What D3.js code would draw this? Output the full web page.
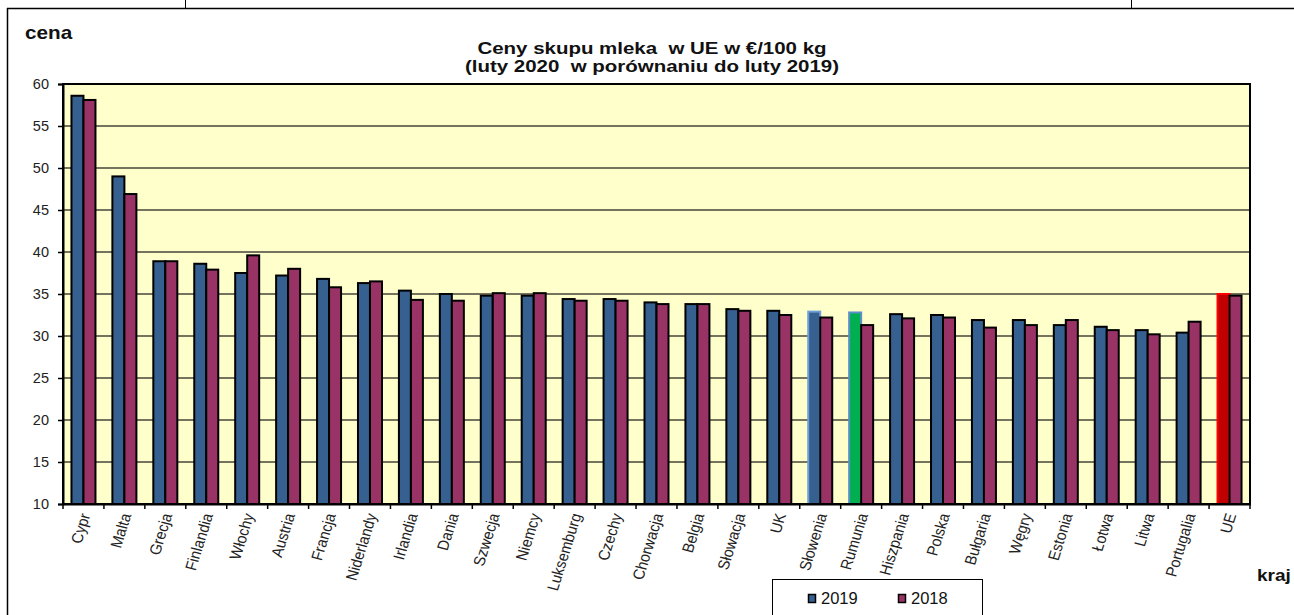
<!DOCTYPE html>
<html><head><meta charset="utf-8">
<script src="https://cdn.jsdelivr.net/npm/d3@7/dist/d3.min.js"></script>
<style>html,body{margin:0;padding:0;background:#fff;}svg{display:block;font-family:"Liberation Sans",Arial,sans-serif;}</style>
</head><body>
<svg id="c" width="1294" height="615"></svg>
<script>
const categories = ["Cypr","Malta","Grecja","Finlandia","Włochy","Austria","Francja","Niderlandy","Irlandia","Dania","Szwecja","Niemcy","Luksemburg","Czechy","Chorwacja","Belgia","Słowacja","UK","Słowenia","Rumunia","Hiszpania","Polska","Bułgaria","Węgry","Estonia","Łotwa","Litwa","Portugalia","UE"];
const values2019 = [58.6,49.0,38.9,38.6,37.5,37.2,36.8,36.3,35.4,35.0,34.8,34.8,34.4,34.4,34.0,33.8,33.2,33.0,32.9,32.8,32.6,32.5,31.9,31.9,31.3,31.1,30.7,30.4,35.0];
const values2018 = [58.1,46.9,38.9,37.9,39.6,38.0,35.8,36.5,34.3,34.2,35.1,35.1,34.2,34.2,33.8,33.8,33.0,32.5,32.2,31.3,32.1,32.2,31.0,31.3,31.9,30.7,30.2,31.7,34.8];
const seriesNames = ["2019","2018"];
const yTicks = [10,15,20,25,30,35,40,45,50,55,60];
const titleLines = ["Ceny skupu mleka  w UE w €/100 kg","(luty 2020  w porównaniu do luty 2019)"];

const colors = {"2019":"#36608f","2018":"#993366"};
const special = {"Słowenia":{fill:"#36608f",stroke:"#6f9fd8"},"Rumunia":{fill:"#00b050",stroke:"#5b8fc9"},"UE":{fill:"#c00000",stroke:"#ff0000"}};

const svg = d3.select("#c");
const L=63,R=1250,T=84,B=504;

svg.append("line").attr("x1",7).attr("x2",1294).attr("y1",8.5).attr("y2",8.5).attr("stroke","#000").attr("stroke-width",1.5);
svg.append("line").attr("x1",7.5).attr("x2",7.5).attr("y1",8).attr("y2",615).attr("stroke","#000").attr("stroke-width",1.5);
svg.append("line").attr("x1",185.5).attr("x2",185.5).attr("y1",0).attr("y2",8).attr("stroke","#000");
svg.append("line").attr("x1",1131.5).attr("x2",1131.5).attr("y1",0).attr("y2",8).attr("stroke","#000");

const x = d3.scaleBand().domain(categories).range([L,R]).paddingInner(0).paddingOuter(0);
const y = d3.scaleLinear().domain([10,60]).range([B,T]);
const xs = d3.scaleBand().domain(seriesNames).range([0,x.bandwidth()]).paddingInner(0).paddingOuter(0.5*(x.bandwidth()-24)/12);

svg.append("rect").attr("x",L).attr("y",T).attr("width",R-L).attr("height",B-T).attr("fill","#ffffcc");
svg.append("g").selectAll("line").data(yTicks.filter(t=>t>10&&t<60)).join("line")
  .attr("x1",L).attr("x2",R).attr("y1",d=>y(d)).attr("y2",d=>y(d))
  .attr("stroke","#45453a").attr("stroke-width",1.4);

const g = svg.append("g");
categories.forEach((c,i)=>{
  [values2019[i],values2018[i]].forEach((v,j)=>{
    const s = seriesNames[j];
    let fill = colors[s], stroke="#000";
    if(j===0 && special[c]){fill=special[c].fill;stroke=special[c].stroke;}
    g.append("rect").attr("x",x(c)+xs(s)).attr("y",y(v)).attr("width",xs.bandwidth()).attr("height",y(10)-y(v))
      .attr("fill",fill).attr("stroke",stroke).attr("stroke-width",2);
  });
});

svg.append("rect").attr("x",L).attr("y",T).attr("width",R-L).attr("height",B-T).attr("fill","none").attr("stroke","#000").attr("stroke-width",2);

const yAxis = d3.axisLeft(y).tickValues(yTicks).tickSize(5).tickPadding(9).tickFormat(d3.format("d"));
const ya = svg.append("g").attr("transform",`translate(${L},0)`).call(yAxis);
ya.select(".domain").attr("stroke","#000").attr("stroke-width",2);
ya.selectAll(".tick line").attr("stroke","#000").attr("stroke-width",1.5);
ya.selectAll("text").attr("font-size",14.5).attr("fill","#222").attr("font-family","Liberation Sans, Arial, sans-serif");

const xAxis = d3.axisBottom(x).tickSize(0).tickFormat("");
const xa = svg.append("g").attr("transform",`translate(0,${B})`).call(xAxis);
xa.select(".domain").attr("stroke","#000").attr("stroke-width",2);
xa.selectAll("line.bt").data(d3.range(categories.length+1)).join("line").attr("class","bt")
  .attr("x1",i=>L+i*x.step()).attr("x2",i=>L+i*x.step()).attr("y1",0).attr("y2",5).attr("stroke","#000").attr("stroke-width",1.5);
svg.append("g").selectAll("text").data(categories).join("text")
  .attr("transform",d=>`translate(${x(d)+x.bandwidth()/2+7},${B+11}) scale(1.1,1) rotate(-74)`)
  .attr("text-anchor","end")
  .attr("font-size",14.5).attr("fill","#222").text(d=>d);

const tt = svg.append("g").attr("transform","translate(652,0) scale(1.28,1)")
  .append("text").attr("text-anchor","middle").attr("font-size",16).attr("font-weight","bold").attr("fill","#111");
titleLines.forEach((t,i)=>tt.append("tspan").attr("x",0).attr("y",54+i*18).style("white-space","pre").text(t));
svg.append("text").attr("transform","translate(25,39) scale(1.15,1)").attr("font-size",18).attr("font-weight","bold").attr("fill","#111").text("cena");
svg.append("text").attr("transform","translate(1257,581) scale(1.12,1)").attr("font-size",17).attr("font-weight","bold").attr("fill","#111").text("kraj");

const lg = svg.append("g");
lg.append("rect").attr("x",772.5).attr("y",579.5).attr("width",210).attr("height",50).attr("fill","#fff").attr("stroke","#000").attr("stroke-width",1);
const lx = [808,898];
seriesNames.forEach((s,i)=>{
  lg.append("rect").attr("x",lx[i]+0.5).attr("y",594.5).attr("width",7).attr("height",8).attr("fill",colors[s]).attr("stroke","#000").attr("stroke-width",1.5);
  lg.append("text").attr("x",lx[i]+13).attr("y",604).attr("font-size",16.5).attr("fill","#111").text(s);
});
</script>
</body></html>
